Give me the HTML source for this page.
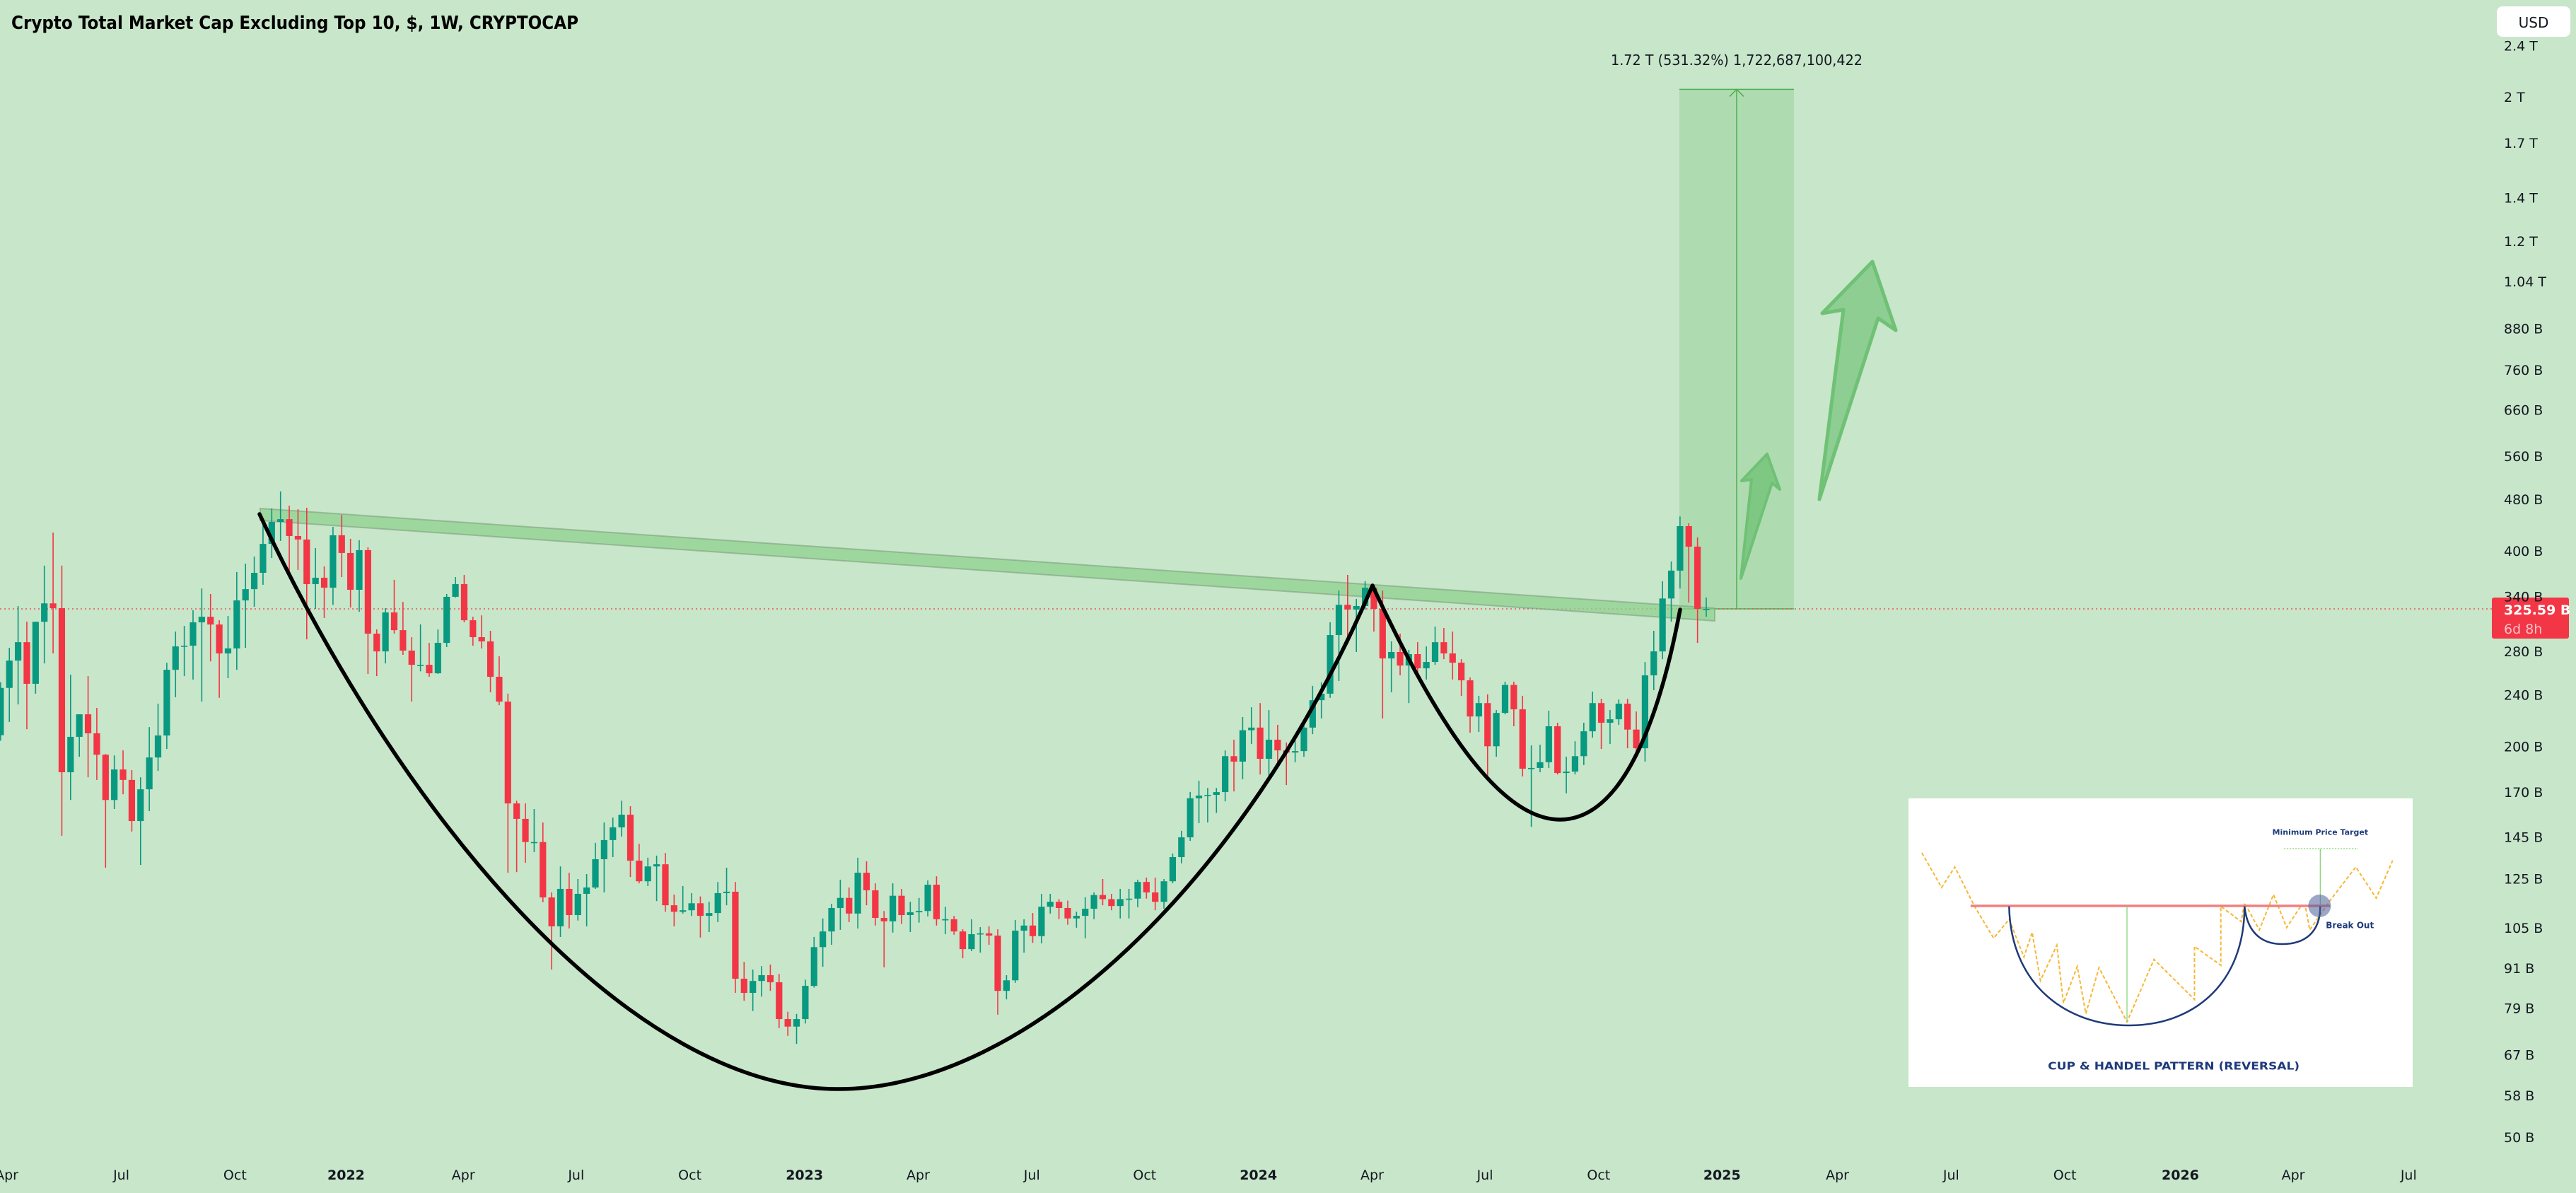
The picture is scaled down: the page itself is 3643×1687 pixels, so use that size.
<!DOCTYPE html>
<html><head><meta charset="utf-8">
<style>
html,body{margin:0;padding:0;background:#c8e6c9;}
svg{display:block;}
text{font-family:"DejaVu Sans","Liberation Sans",sans-serif;}
</style></head>
<body>
<svg id="chart" width="3643" height="1687" viewBox="0 0 3643 1687" xmlns="http://www.w3.org/2000/svg">
<rect x="0" y="0" width="3643" height="1687" fill="#c8e6c9"/>
<text x="16" y="41" font-size="26" font-weight="bold" fill="#000" textLength="802" lengthAdjust="spacingAndGlyphs">Crypto Total Market Cap Excluding Top 10, $, 1W, CRYPTOCAP</text>
<g id="annotBack"></g>
<g id="candles"></g>
<g id="annotFront"></g>
<g id="yaxis"></g>
<g id="xaxis"></g>
<rect x="3531" y="9" width="104" height="43" rx="8" fill="#fff"/>
<text x="3583" y="39" font-size="20" text-anchor="middle" fill="#131722">USD</text>
</svg>
<script>
// ---- data (weekly candles, values in billions USD) ----
const firstOpen = 208;
const closes = [246,271,289.3,249.6,311,332,326.4,182.4,206.8,224,209.4,194.1,165.3,184.2,177.5,153.4,171.7,192.2,207.8,262.3,285,285.7,310.4,316.6,308,278,283,335.5,349.2,370,410,443.2,447.6,421.6,416.4,355.5,363.6,351,422.7,397,348.4,401,298.2,280,321.5,301.9,280.8,267,267,259.1,288.6,339.8,355.5,312.7,294.5,290.1,255.9,234.3,163.3,154.6,142.4,142.4,117,105.6,120.6,109.9,118.5,121.2,134,143.4,150,156.9,133.3,123.9,130.6,131.6,113.8,111.2,111.8,114.6,109.6,110.7,118.8,119.4,87.7,83.4,87,88.8,86.6,76,74,76,85.5,98.1,103.7,112.7,116.8,110.5,127.7,120,108.8,107.5,117.7,109.9,111,111.5,122.4,108.3,108.3,103.7,97.4,102.7,103,102.2,84,87.2,104,105.9,102,113.2,115.2,112.7,108.6,109.6,112.4,118,116.3,113.5,116.3,116.5,123.6,119.1,115.2,123.9,135,144.8,166.3,167.9,168.3,170,193.1,189.4,211.7,213.7,191.3,204.7,197.1,195.6,196.6,213.7,235.5,241,296.7,330.3,324.8,328.9,351,325.6,273.1,279.4,266.3,277.3,263.7,269.7,289.3,278,269,252.7,222.3,233.1,200,225.1,248.6,228,184.7,185.2,189,214.7,181.9,182.8,193.1,210.9,233.1,217.4,220.1,232.6,212.2,198.6,257.2,280,337.8,372.9,436.6,406,325.6,325.6];
const highs = [251,283.6,328.9,311.2,311,379.5,426.8,379.5,257.8,224,256.5,229.1,194.6,193.6,197.1,183.8,179.2,214.1,232.6,269,300.4,306.5,324,350,343.2,312.7,317.4,371,382.3,392,437.7,464.9,493.7,469.5,463.7,466,404,378.6,435.5,454.2,417.4,415.3,405,302.6,326.4,360.9,333.7,294.5,308.1,288.6,302.6,343.2,364.5,367.2,316.6,318.2,301.2,275.2,241,164.9,163.3,160.1,152.6,119.1,130.6,127.7,124.9,127.1,142,152.6,155.3,164.9,161.7,141.5,134.7,135.7,137,118.2,121.8,118.8,117.4,115.2,123.6,130,123.6,93.1,90.6,91.7,92.2,89.2,78,77.4,87.4,101.7,108.6,114.4,124.6,121.2,134.7,133,123,111.5,123,120.6,115.2,116.8,124.3,126.1,113.2,109.6,104.5,108.3,105.3,105.6,104.5,88.8,108,108.3,110.7,118.5,118.5,116.3,115.7,111.2,117.1,119.1,124.9,118.5,120.6,120.6,124.6,125.5,125.5,124.9,136.7,148.2,170,177,172.5,172.5,197.1,204.7,221.8,229.7,233.1,227.4,215.8,202.7,204.2,219.6,247.8,250.8,310.4,347.5,367.2,337.3,359.1,354.6,347.5,290.1,298.2,281.5,289.3,285,305.8,304.2,300.4,272.4,255.2,239.2,240.4,227.4,251.5,251.5,239.2,200.6,201.1,226.9,217.4,192.7,203.6,217.4,242.8,236.7,227.4,236.1,236.7,226.3,269.7,301.2,359.1,385.2,451.9,441,419.5,339];
const lows = [204,218,232,212.5,241,268.3,278,145.6,165.3,192.7,179.2,177.5,130,160.1,168.7,147.8,131.3,158.9,183.3,198.1,238,256.5,253.4,234.3,270.3,237.5,254.6,262.3,283.6,328,354.6,390,414.3,369,373.8,292.2,325.6,315.2,330.3,364.5,327.2,322.3,258.5,256.5,268.3,298.2,276.6,234.3,260.9,255.9,258.5,284.3,339,310.4,285.7,282.9,242.2,231.4,127.7,128,132.3,137.4,115,90.6,101.7,104.8,107.8,105.6,120.6,119.1,135,145.2,125.8,123,121.8,115.5,111.2,105.6,110.5,109.6,101.5,103.5,107.2,113.8,83.4,81.1,78.2,82.3,84,73.6,71.6,69.6,74.8,85,91.5,98.9,104.3,107.2,104.8,113.8,105.9,91.3,103.3,106.5,103.5,107,109.4,105.9,102.7,102.5,94.3,96.7,96.2,98.9,77.2,81.5,86.4,96.2,99.6,99.4,110.5,108.3,106.2,105.1,101.2,108.3,113.8,111.8,108.6,108.6,113,116.5,111.8,112.4,123,132,143,152.3,152.6,157.9,164.5,170.4,177.9,201.6,181,180.2,188,174.3,189,192.7,208.8,220.7,237.5,252.1,291.5,279.4,324.8,300.4,220.7,242.2,257.2,233.1,257.8,253.4,267,272.4,253.4,239.2,209.9,210.4,180.2,192.7,224,214.7,179.7,150.3,182.4,185.2,181,169.2,181,187.1,206.2,198.1,201.6,215.8,198.6,191.7,189.4,244,272.4,311.2,350,333,288.6,316.6];
const yTickValues = [2400,2000,1700,1400,1200,1040,880,760,660,560,480,400,340,280,240,200,170,145,125,105,91,79,67,58,50];
const yTickLabels = ["2.4 T","2 T","1.7 T","1.4 T","1.2 T","1.04 T","880 B","760 B","660 B","560 B","480 B","400 B","340 B","280 B","240 B","200 B","170 B","145 B","125 B","105 B","91 B","79 B","67 B","58 B","50 B"];
const xTickLabels = ["Apr","Jul","Oct","2022","Apr","Jul","Oct","2023","Apr","Jul","Oct","2024","Apr","Jul","Oct","2025","Apr","Jul","Oct","2026","Apr","Jul"];
const xTickWeeks = [0.7,13.8,26.8,39.5,52.9,65.8,78.8,91.9,104.9,117.9,130.8,143.8,156.8,169.7,182.7,196.8,210,223,236,249.2,262.1,275.3];
const lastPrice = 325.59;
const targetValue = 2055;

// ---- axes ----
const NS = "http://www.w3.org/2000/svg";
const N = closes.length;
const STEP = 12.37, LASTX = 2413;
function xOf(i){ return LASTX - (N - 1 - i) * STEP; }
function yOf(v){ return 1608 - 398.7 * Math.log(v / 50); }
function mk(tag, attrs, parent){ const e = document.createElementNS(NS, tag); for (const k in attrs) e.setAttribute(k, attrs[k]); parent.appendChild(e); return e; }

const gC = document.getElementById('candles');
for (let i = 0; i < N; i++) {
  const o = i === 0 ? firstOpen : closes[i-1], c = closes[i];
  const up = c >= o, col = up ? '#089981' : '#f23645';
  const x = xOf(i);
  const g = mk('g', {}, gC);
  
  
  const w = mk('line', {x1:x, x2:x, y1:yOf(highs[i]), y2:yOf(lows[i]), stroke:col, 'stroke-width':1.6}, g);
  
  
  const yt = yOf(Math.max(o,c)), yb = yOf(Math.min(o,c));
  const b = mk('rect', {x:x-4.6, y:yt, width:9.2, height:Math.max(1.6, yb-yt), fill:col}, g);
  
  
}

const gY = document.getElementById('yaxis');
yTickValues.forEach((v, k) => {
  const t = mk('text', {x:3541, y:yOf(v)+7, 'font-size':19, fill:'#131722'}, gY);
  
  
  t.textContent = yTickLabels[k];
});
const gX = document.getElementById('xaxis');
xTickLabels.forEach((l, k) => {
  const isYear = /^\d{4}$/.test(l);
  const t = mk('text', {x:xOf(xTickWeeks[k]), y:1668, 'font-size':19, 'text-anchor':'middle', fill:'#131722', 'font-weight': isYear ? 'bold' : 'normal'}, gX);
  
  
  t.textContent = l;
});

// ---- annotations ----
const gB = document.getElementById('annotBack');
const yP = yOf(lastPrice), yT = yOf(targetValue);
const box = mk('rect', {x:2375, y:yT, width:162, height:yP-yT, fill:'#4caf50', 'fill-opacity':0.2}, gB);


const tl = mk('line', {x1:2375, x2:2537, y1:yT, y2:yT, stroke:'#4caf50', 'stroke-width':1.5}, gB);


const bl = mk('line', {x1:2375, x2:2537, y1:yP, y2:yP, stroke:'#4caf50', 'stroke-width':1.5}, gB);


const vl = mk('path', {d:'M2456,'+yP+' L2456,'+yT+' M2446,'+(yT+10)+' L2456,'+yT+' L2466,'+(yT+10), stroke:'#4caf50', 'stroke-width':1.5, fill:'none'}, gB);


const rt = mk('text', {x:2278, y:92, 'font-size':20, fill:'#131722', textLength:356, lengthAdjust:'spacingAndGlyphs'}, gB);


rt.textContent = '1.72 T (531.32%) 1,722,687,100,422';

const pl = mk('line', {x1:0, x2:3524, y1:yP, y2:yP, stroke:'#f23645', 'stroke-width':1.3, 'stroke-dasharray':'2,4'}, gB);



const band = mk('polygon', {points:'368,719 2425,860 2425,878 368,736', fill:'#8fd18f', 'fill-opacity':0.75, stroke:'#7f9f7f', 'stroke-width':2, 'stroke-opacity':0.6}, gB);



const gF = document.getElementById('annotFront');
const cup = mk('path', {d:'M367,727 C580,1180 900,1540 1185,1540 C1450,1540 1760,1250 1941,828', stroke:'#000', 'stroke-width':5.5, fill:'none', 'stroke-linecap':'round'}, gF);


const handle = mk('path', {d:'M1941,828 C2030,1020 2120,1159 2206,1159 C2300,1159 2350,1000 2376,862', stroke:'#000', 'stroke-width':5.5, fill:'none', 'stroke-linecap':'round'}, gF);



const a1 = mk('polygon', {points:'2462,818 2477,678 2463,680 2499,642 2517,692 2506,683', fill:'#6fc175', 'fill-opacity':0.75, stroke:'#6fc175', 'stroke-width':4, 'stroke-linejoin':'round'}, gF);


const a2 = mk('polygon', {points:'2573,706 2607,438 2577,443 2648,370 2681,467 2656,450', fill:'#6fc175', 'fill-opacity':0.65, stroke:'#6fc175', 'stroke-width':5, 'stroke-linejoin':'round'}, gF);



// price tag
const pt = mk('rect', {x:3524, y:yP-16, width:109, height:58, rx:3, fill:'#f23645'}, gF);


const pt1 = mk('text', {x:3541, y:yP+8, 'font-size':19, 'font-weight':'bold', fill:'#fff'}, gF);


pt1.textContent = '325.59 B';
const pt2 = mk('text', {x:3541, y:yP+35, 'font-size':19, fill:'#f9c0c6'}, gF);


pt2.textContent = '6d 8h';

// inset illustration
const gI = mk('g', {}, gF);


function ix(z){ return 2690 + z * 0.4656; }
function iy(z){ return 1120 + z / 3; }
mk('rect', {x:2699, y:1129, width:713, height:408, fill:'#fff'}, gI);
const zig = [[60,258],[120,405],[160,318],[220,485],[278,620],[325,540],[370,700],[395,595],[420,800],[470,650],[490,895],[532,740],[558,940],[598,745],[683,975],[765,710],[888,880],[888,655],[968,735],[968,485],[1030,550],[1040,470],[1085,585],[1128,435],[1168,575],[1213,480],[1225,485],[1238,585],[1300,460],[1378,318],[1440,450],[1490,290]];
mk('polyline', {points:zig.map(p => ix(p[0]) + ',' + iy(p[1])).join(' '), fill:'none', stroke:'#f7b733', 'stroke-width':2, 'stroke-dasharray':'5,3'}, gI);
mk('line', {x1:ix(208), x2:ix(1300), y1:iy(483), y2:iy(483), stroke:'#f08080', 'stroke-width':3.5}, gI);
mk('path', {d:'M'+ix(325)+','+iy(485)+' C'+ix(330)+','+iy(820)+' '+ix(500)+','+iy(990)+' '+ix(690)+','+iy(990)+' C'+ix(880)+','+iy(990)+' '+ix(1040)+','+iy(820)+' '+ix(1040)+','+iy(485), fill:'none', stroke:'#1f3a7a', 'stroke-width':2.5}, gI);
mk('path', {d:'M'+ix(1040)+','+iy(485)+' C'+ix(1050)+','+iy(620)+' '+ix(1110)+','+iy(645)+' '+ix(1155)+','+iy(645)+' C'+ix(1220)+','+iy(645)+' '+ix(1270)+','+iy(600)+' '+ix(1270)+','+iy(485), fill:'none', stroke:'#1f3a7a', 'stroke-width':2.5}, gI);
mk('line', {x1:ix(683), x2:ix(683), y1:iy(485), y2:iy(975), stroke:'#7fd36b', 'stroke-width':1.2}, gI);
mk('line', {x1:ix(1270), x2:ix(1270), y1:iy(240), y2:iy(483), stroke:'#7fd36b', 'stroke-width':1.2}, gI);
mk('line', {x1:ix(1160), x2:ix(1385), y1:iy(240), y2:iy(240), stroke:'#7fd36b', 'stroke-width':1.2, 'stroke-dasharray':'2,2'}, gI);
mk('circle', {cx:ix(1268), cy:iy(483), r:16, fill:'#4a5f9a', 'fill-opacity':0.55}, gI);
const t1 = mk('text', {x:ix(1270), y:iy(182), 'font-size':11, 'font-weight':'bold', fill:'#1f3a7a', 'text-anchor':'middle'}, gI);
t1.textContent = 'Minimum Price Target';
const t2 = mk('text', {x:ix(1360), y:iy(578), 'font-size':12, 'font-weight':'bold', fill:'#1f3a7a', 'text-anchor':'middle'}, gI);
t2.textContent = 'Break Out';
const t3 = mk('text', {x:ix(825), y:iy(1178), 'font-size':15, 'font-weight':'bold', fill:'#1f3a7a', 'text-anchor':'middle', textLength:356, lengthAdjust:'spacingAndGlyphs'}, gI);
t3.textContent = 'CUP & HANDEL PATTERN (REVERSAL)';
</script>
</body></html>
